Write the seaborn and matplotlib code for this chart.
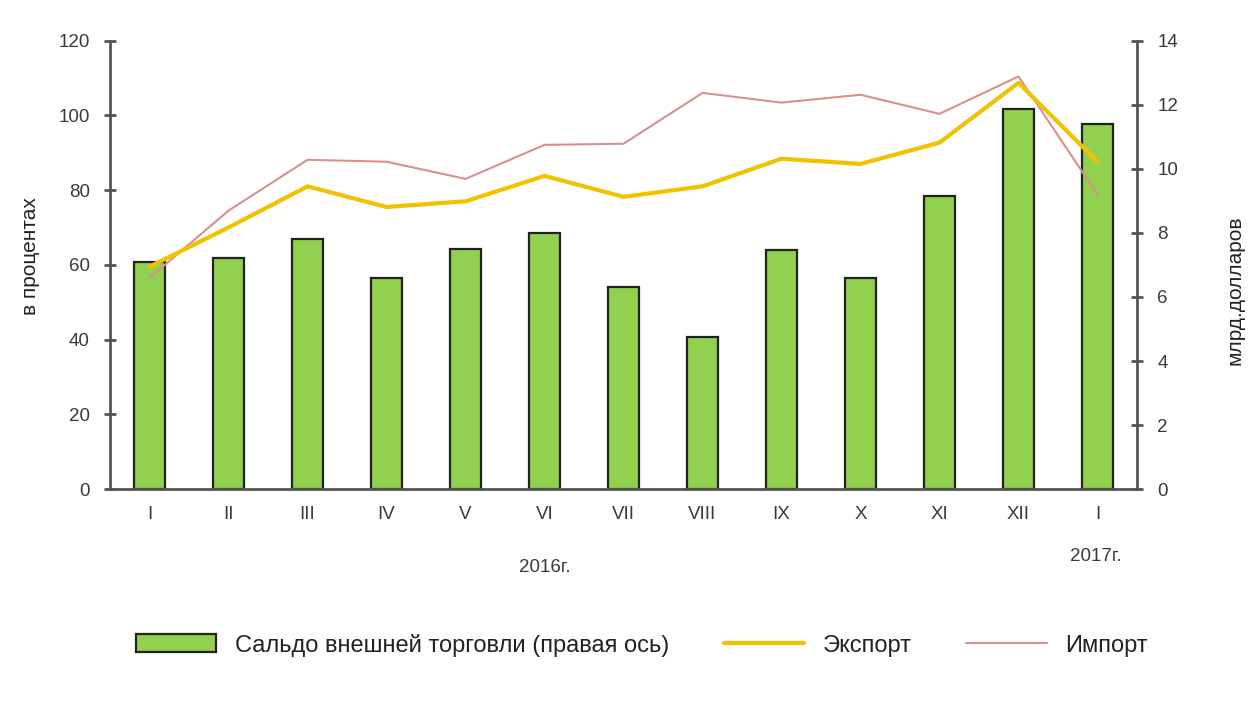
import numpy as np
import pandas as pd
import seaborn as sns
import matplotlib.pyplot as plt
from matplotlib.patches import Patch
from matplotlib.lines import Line2D

# Data
months = ["I", "II", "III", "IV", "V", "VI", "VII", "VIII", "IX", "X", "XI", "XII", "I"]
balance = [7.1, 7.2, 7.8, 6.6, 7.5, 8.0, 6.3, 4.75, 7.45, 6.6, 9.15, 11.85, 11.4]   # млрд. долларов
export = [59.5, 70.0, 81.0, 75.5, 77.0, 83.8, 78.2, 81.0, 88.4, 87.0, 92.7, 108.7, 87.6]  # %
imports = [56.5, 74.5, 88.1, 87.6, 83.0, 92.1, 92.4, 106.0, 103.4, 105.5, 100.4, 110.4, 78.8]  # %

df = pd.DataFrame({
    "idx": np.arange(len(months)),
    "balance": balance,
    "export": export,
    "import": imports,
})

sns.set_style("white")
plt.rcParams["font.family"] = ["Liberation Sans Narrow", "Liberation Sans", "DejaVu Sans"]

GREEN = "#92D050"
YELLOW = "#F2C200"
PINK = "#D8908E"
TEXT = "#3a3a3a"
SPINE = "#555555"

fig = plt.figure(figsize=(12.59, 7.28), dpi=100)
ax = fig.add_axes([0.0874, 0.328, 0.8157, 0.6163])
ax2 = ax.twinx()
ax.set_zorder(ax2.get_zorder() + 1)
ax.patch.set_visible(False)

# bars on the right axis
sns.barplot(data=df, x="idx", y="balance", ax=ax2, color=GREEN,
            edgecolor="#222222", linewidth=1.6, width=0.4, saturation=1)

# lines on the left axis
sns.lineplot(data=df, x="idx", y="import", ax=ax, color=PINK, linewidth=1.5)
sns.lineplot(data=df, x="idx", y="export", ax=ax, color=YELLOW, linewidth=3)

ax.set_xlim(-0.5, len(months) - 0.5)
ax.set_ylim(0, 120)
ax.set_yticks(range(0, 121, 20))
ax2.set_ylim(0, 14)
ax2.set_yticks(range(0, 15, 2))

ax.set_xticks(range(len(months)))
ax.set_xticklabels(months)
ax2.set_xlabel("")

for a in (ax, ax2):
    for s in a.spines.values():
        s.set_visible(False)
ax.spines["left"].set_visible(True)
ax.spines["bottom"].set_visible(True)
ax2.spines["right"].set_visible(True)
for s in (ax.spines["left"], ax.spines["bottom"], ax2.spines["right"]):
    s.set_color(SPINE)
    s.set_linewidth(2)

ax.tick_params(axis="y", direction="inout", length=9, width=2, color=SPINE,
               labelsize=13.5, labelcolor=TEXT, pad=10)
ax2.tick_params(axis="y", direction="inout", length=9, width=2, color=SPINE,
                labelsize=13.5, labelcolor=TEXT, pad=10)
ax.tick_params(axis="x", length=0, labelsize=13.5, labelcolor=TEXT, pad=12)

ax.set_xlabel("")
ax.set_ylabel("в процентах", fontsize=15, color="#222222")
ax2.set_ylabel("млрд.долларов", fontsize=15, color="#222222", rotation=90)
ax.yaxis.set_label_coords(-0.068, 0.52)
ax2.yaxis.set_label_coords(1.0857, 0.444)

fig.text(0.433, 0.221, "2016г.", fontsize=13.5, color=TEXT, ha="center", va="center")
fig.text(0.870, 0.236, "2017г.", fontsize=13.5, color=TEXT, ha="center", va="center")

handles = [
    Patch(facecolor=GREEN, edgecolor="#222222", linewidth=1.6),
    Line2D([0], [0], color=YELLOW, linewidth=3),
    Line2D([0], [0], color=PINK, linewidth=1.5),
]
labels = ["Сальдо внешней торговли (правая ось)", "Экспорт", "Импорт"]
fig.legend(handles, labels, loc="center", bbox_to_anchor=(0.51, 0.114), ncol=3,
           frameon=False, fontsize=17, handlelength=3.4, handleheight=0.8,
           columnspacing=2.3, handletextpad=0.8, labelcolor="#222222")

fig.savefig("out.png", dpi=100)
